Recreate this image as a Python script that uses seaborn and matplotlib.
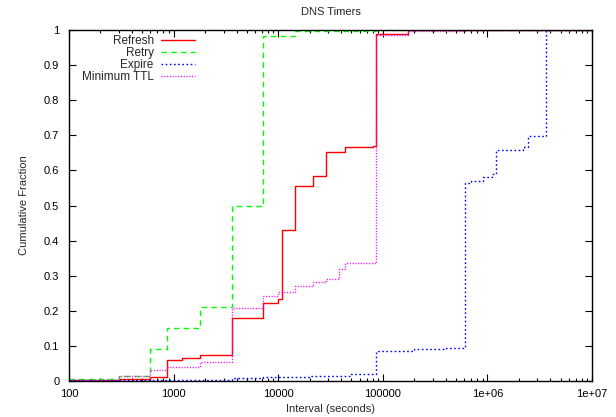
import numpy as np
import pandas as pd
import seaborn as sns
import matplotlib
matplotlib.use("Agg")
import matplotlib.pyplot as plt
from matplotlib.ticker import LogLocator, FixedLocator, FixedFormatter, NullFormatter

# step breakpoints (seconds) and cumulative fraction after each breakpoint
refresh_x = [100, 300, 600, 870, 1200, 1800, 3600, 7200, 10000, 10800, 14400,
             21600, 28800, 43200, 80000, 86400, 172800, 1e7]
refresh_y = [0.003, 0.005, 0.01, 0.06, 0.065, 0.075, 0.18, 0.223, 0.234, 0.43, 0.555,
             0.584, 0.651, 0.666, 0.669, 0.99, 1.0, 1.0]

retry_x = [100, 300, 600, 870, 1800, 3600, 7200, 14400, 86400, 1e7]
retry_y = [0.005, 0.015, 0.09, 0.15, 0.21, 0.50, 0.984, 0.996, 1.0, 1.0]

expire_x = [100, 3600, 7200, 20000, 50000, 86400, 200000, 400000, 604800, 700000,
            900000, 1100000, 1209600, 2200000, 2419200, 3600000, 1e7]
expire_y = [0.003, 0.008, 0.012, 0.015, 0.02, 0.086, 0.09, 0.095, 0.563, 0.57,
            0.58, 0.59, 0.658, 0.667, 0.699, 1.0, 1.0]

minttl_x = [100, 300, 600, 870, 1800, 3600, 7200, 10000, 14400, 21600, 28800,
            38000, 43200, 86400, 172800, 604800, 1e7]
minttl_y = [0.003, 0.015, 0.03, 0.041, 0.055, 0.209, 0.243, 0.254, 0.27, 0.281, 0.29,
            0.318, 0.336, 0.986, 0.997, 1.0, 1.0]

series = [
    ("Refresh", refresh_x, refresh_y, "#ff0000", "-"),
    ("Retry", retry_x, retry_y, "#00ff00", (0, (4, 3))),
    ("Expire", expire_x, expire_y, "#0000ff", (0, (1.2, 1.8))),
    ("Minimum TTL", minttl_x, minttl_y, "#ff00ff", (0, (0.8, 1.2))),
]

x_ticks = [100, 1000, 10000, 100000, 1e6, 1e7]
x_tick_labels = ["100", "1000", "10000", "100000", "1e+06", "1e+07"]
y_ticks = [0, 0.1, 0.2, 0.3, 0.4, 0.5, 0.6, 0.7, 0.8, 0.9, 1.0]
y_tick_labels = ["0", "0.1", "0.2", "0.3", "0.4", "0.5", "0.6", "0.7", "0.8", "0.9", "1"]

sns.set_style("ticks")
plt.rcParams["font.family"] = ["Liberation Sans", "DejaVu Sans"]
plt.rcParams["font.size"] = 8

fig = plt.figure(figsize=(6.16, 4.17), dpi=100)
ax = fig.add_axes([69 / 616, 36 / 417, 523 / 616, 351 / 417])

for name, xs, ys, color, ls in series:
    df = pd.DataFrame({"x": xs, "y": ys})
    sns.lineplot(data=df, x="x", y="y", ax=ax, color=color, linestyle=ls,
                 linewidth=1.0, drawstyle="steps-post", label=name, sort=False)

ax.set_xscale("log")
ax.set_xlim(100, 1e7)
ax.set_ylim(0, 1)
ax.xaxis.set_major_locator(FixedLocator(x_ticks))
ax.xaxis.set_major_formatter(FixedFormatter(x_tick_labels))
ax.xaxis.set_minor_locator(LogLocator(base=10, subs=np.arange(2, 10)))
ax.xaxis.set_minor_formatter(NullFormatter())
ax.yaxis.set_major_locator(FixedLocator(y_ticks))
ax.yaxis.set_major_formatter(FixedFormatter(y_tick_labels))

ax.tick_params(which="both", direction="in", top=True, right=True, colors="black",
               labelsize=8, width=0.8)
ax.tick_params(which="major", length=5)
ax.tick_params(which="minor", length=2.5)
ax.tick_params(axis="y", which="major", pad=7)
ax.tick_params(axis="x", which="major", pad=6)
for sp in ax.spines.values():
    sp.set_color("black")
    sp.set_linewidth(1.0)

ax.set_xlabel("Interval (seconds)", fontsize=8, labelpad=3)
ax.set_ylabel("Cumulative Fraction", fontsize=8, labelpad=11)
ax.set_title("DNS Timers", fontsize=8, pad=11)

leg = ax.legend(loc="upper right", bbox_to_anchor=(195 / 616, 1 - 35 / 417),
                bbox_transform=fig.transFigure, frameon=False, markerfirst=False,
                fontsize=8.5, handlelength=2.9, handletextpad=0.6,
                labelspacing=0.0, borderpad=0, borderaxespad=0)

fig.savefig("out.png", dpi=100)
